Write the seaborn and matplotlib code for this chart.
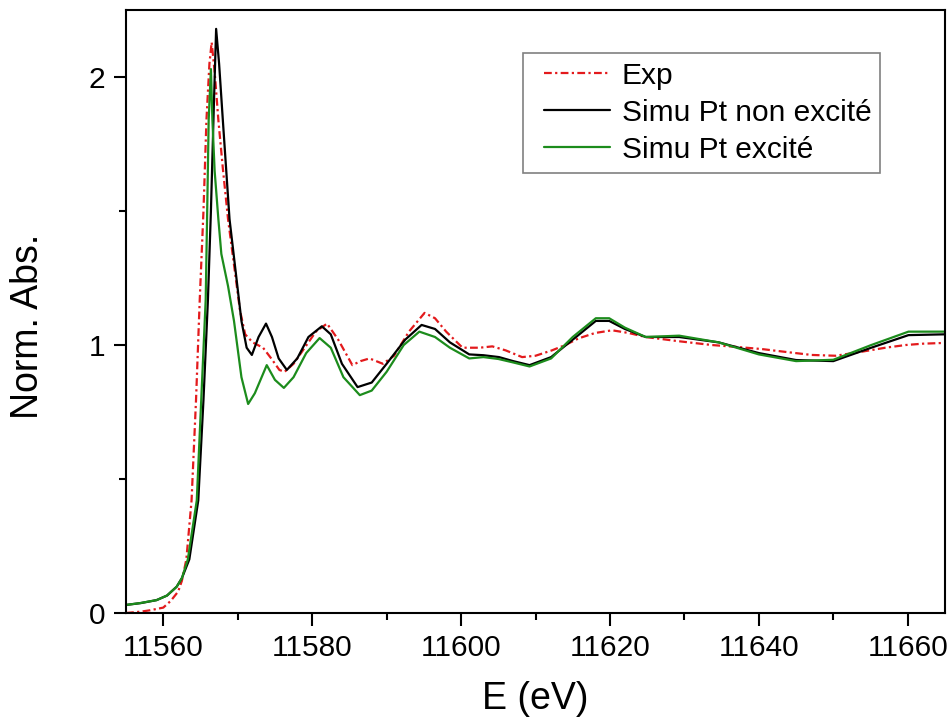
import seaborn as sns
import matplotlib.pyplot as plt
import matplotlib.ticker as mticker
from matplotlib.lines import Line2D
from matplotlib.legend_handler import HandlerLine2D
import numpy as np
import pandas as pd

# values
exp_e = [11555, 11557, 11558.2, 11560, 11561, 11562, 11562.5, 11563.1, 11563.8, 11564.4,
         11564.9, 11565.4, 11565.8, 11566.2, 11566.5, 11566.9, 11567.4, 11568.0, 11568.7, 11569.5,
         11570.3, 11571.0, 11572.0, 11573.4, 11574.5, 11575.6, 11576.3, 11577.5, 11579, 11580.5,
         11582, 11583.5, 11585.4, 11586.5, 11587.7, 11589.5, 11591, 11593, 11595.1, 11596.5,
         11598, 11600.2, 11602.5, 11604.2, 11606, 11608.2, 11610, 11612.2, 11614, 11615.8,
         11618, 11620.3, 11622.5, 11624.8, 11629, 11633.7, 11637, 11640.4, 11644, 11647.1,
         11650.3, 11653.8, 11657, 11659.7, 11662, 11665]
exp_mu = [0.0, 0.005, 0.01, 0.02, 0.045, 0.08, 0.12, 0.2, 0.42, 0.795,
          1.17, 1.5, 1.84, 2.05, 2.13, 2.02, 1.84, 1.66, 1.47, 1.3,
          1.13, 1.04, 1.01, 0.99, 0.95, 0.907, 0.9, 0.93, 0.99, 1.05,
          1.08, 1.02, 0.925, 0.94, 0.95, 0.93, 0.96, 1.05, 1.12, 1.1,
          1.05, 0.99, 0.99, 0.995, 0.98, 0.955, 0.96, 0.98, 1.0, 1.025,
          1.045, 1.055, 1.045, 1.03, 1.015, 1.0, 0.993, 0.985, 0.973, 0.963,
          0.96, 0.975, 0.99, 1.0, 1.005, 1.008]

non_e = [11555, 11557, 11559.1, 11560.5, 11561.8, 11562.5, 11563.5, 11564.7, 11565.4, 11566.0,
         11566.4, 11566.8, 11567.1, 11567.5, 11568.0, 11568.9, 11569.7, 11570.5, 11571.2, 11571.9,
         11572.8, 11573.8, 11574.6, 11575.5, 11576.6, 11578, 11579.5, 11581.3, 11582.5, 11584,
         11586.1, 11588, 11590, 11592.5, 11594.7, 11596.5, 11598.5, 11601.1, 11603, 11605.1,
         11607, 11609.2, 11612.1, 11615, 11618.1, 11619.9, 11622, 11624.8, 11629.3, 11634.6,
         11640, 11645, 11650, 11655.1, 11660.1, 11665]
non_mu = [0.03, 0.037, 0.048, 0.065, 0.098, 0.13, 0.2, 0.42, 0.795, 1.17,
          1.5, 1.9, 2.18, 2.05, 1.84, 1.47, 1.28, 1.09, 0.99, 0.963,
          1.03, 1.08, 1.03, 0.95, 0.907, 0.95, 1.03, 1.07, 1.04, 0.93,
          0.843, 0.86, 0.93, 1.02, 1.075, 1.06, 1.01, 0.965, 0.962, 0.955,
          0.94, 0.925, 0.955, 1.02, 1.09, 1.09, 1.06, 1.03, 1.03, 1.01,
          0.97, 0.944, 0.94, 0.99, 1.037, 1.04]

exc_e = [11555, 11556.9, 11559.1, 11560.5, 11561.8, 11562.5, 11563.3, 11564.5, 11565.1, 11565.7,
         11565.9, 11566.1, 11566.4, 11566.6, 11566.9, 11567.4, 11567.8, 11568.7, 11569.5, 11570.5,
         11571.4, 11572.3, 11573.9, 11575, 11576.2, 11577.5, 11579.2, 11581, 11582.5, 11584.2,
         11586.4, 11588, 11590, 11592.3, 11594.4, 11596.5, 11598.5, 11601.1, 11603, 11605,
         11607, 11609.2, 11612.1, 11615, 11618.1, 11619.9, 11622, 11624.8, 11629.3, 11634.6,
         11640, 11645, 11650, 11655.1, 11660.1, 11665]
exc_mu = [0.03, 0.037, 0.048, 0.065, 0.098, 0.13, 0.2, 0.42, 0.795, 1.17,
          1.5, 1.84, 2.03, 1.84, 1.65, 1.47, 1.34, 1.22, 1.09, 0.88,
          0.78, 0.82, 0.925, 0.87, 0.84, 0.88, 0.97, 1.026, 0.99, 0.88,
          0.813, 0.83, 0.9, 1.0, 1.05, 1.03, 0.99, 0.95, 0.955, 0.948,
          0.935, 0.92, 0.95, 1.03, 1.1, 1.1, 1.065, 1.03, 1.035, 1.01,
          0.965, 0.94, 0.945, 1.0, 1.05, 1.05]

labels = ['Exp', 'Simu Pt non excité', 'Simu Pt excité']

sns.set_style('ticks')
plt.rcParams['font.family'] = ['Liberation Sans', 'DejaVu Sans']
plt.rcParams['text.color'] = 'black'
plt.rcParams['axes.labelcolor'] = 'black'
plt.rcParams['xtick.color'] = 'black'
plt.rcParams['ytick.color'] = 'black'

fig = plt.figure(figsize=(9.52, 7.22), dpi=100)
ax = fig.add_axes([0.1324, 0.151, 0.8602, 0.835])

sns.lineplot(x=exp_e, y=exp_mu, ax=ax, color='#e31a1c', lw=1.6,
             linestyle=(0, (3.5, 1.5, 1, 1.5)), label=labels[0], estimator=None)
sns.lineplot(x=non_e, y=non_mu, ax=ax, color='black', lw=1.6,
             label=labels[1], estimator=None)
sns.lineplot(x=exc_e, y=exc_mu, ax=ax, color='#1c8c1c', lw=1.6,
             label=labels[2], estimator=None)

ax.set_xlim(11555, 11665)
ax.set_ylim(0, 2.25)
ax.xaxis.set_major_locator(mticker.MultipleLocator(20))
ax.xaxis.set_minor_locator(mticker.MultipleLocator(10))
ax.yaxis.set_major_locator(mticker.MultipleLocator(1))
ax.yaxis.set_minor_locator(mticker.MultipleLocator(0.5))
ax.tick_params(which='major', length=9, width=1.5, labelsize=21.5, pad=6)
ax.tick_params(which='minor', length=5, width=1.5)
ax.tick_params(top=False, right=False, which='both')
for s in ax.spines.values():
    s.set_linewidth(1.5)
    s.set_color('black')

ax.set_xlabel('E (eV)', fontsize=27)
ax.set_ylabel('Norm. Abs.', fontsize=27)
ax.xaxis.set_label_coords(0.5, -0.113)
ax.yaxis.set_label_coords(-0.098, 0.475)

leg = ax.legend(loc='upper left', bbox_to_anchor=(0.485, 0.929), borderaxespad=0,
                fontsize=21.5, fancybox=False, handlelength=2.6, handletextpad=0.4,
                labelspacing=0.3, borderpad=0.3, framealpha=1,
                handler_map={Line2D: HandlerLine2D(xpad=0.4)})
leg.get_frame().set_edgecolor('#808080')
leg.get_frame().set_linewidth(1.2)

plt.savefig('out.png', dpi=100)
